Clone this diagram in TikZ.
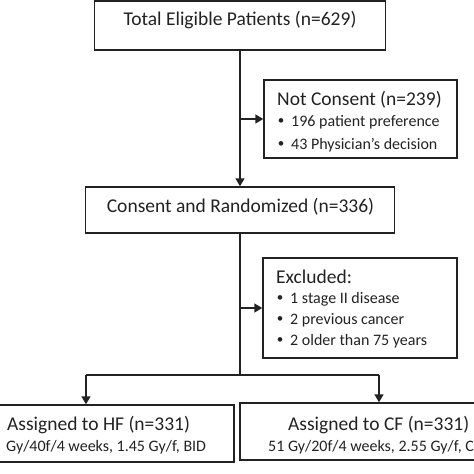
\documentclass[tikz,border=0pt]{standalone}
\usepackage{fontspec}
\setmainfont{Carlito}
\usetikzlibrary{arrows.meta}
\definecolor{ink}{HTML}{222222}
\tikzset{
  box/.style={draw=ink, line width=1.4pt, rectangle, inner sep=0pt},
  big/.style={inner sep=0pt, text=ink, font=\fontsize{19.5}{22}\selectfont},
  small/.style={inner sep=0pt, text=ink, font=\fontsize{16}{19}\selectfont, anchor=west},
  bul/.style={inner sep=0pt, text=ink, font=\fontsize{13}{16}\selectfont},
  conn/.style={draw=ink, line width=1.4pt},
  arr/.style={conn, -{Triangle[length=8pt,width=9pt]}}
}
\begin{document}
\begin{tikzpicture}[x=1pt,y=-1pt]
\clip (0,0) rectangle (474,474);
\useasboundingbox (0,0) rectangle (474,474);
% boxes
\node[box, minimum width=291pt, minimum height=49pt] (top) at (240,25.5) {};
\node[box, minimum width=193pt, minimum height=78pt] (nc) at (360.5,119) {};
\node[box, minimum width=309pt, minimum height=46pt] (cons) at (240,210) {};
\node[box, minimum width=194pt, minimum height=100pt] (exc) at (360,308) {};
\node[box, minimum width=275pt, minimum height=57pt] (hf) at (96.5,433.5) {};
\node[box, minimum width=264pt, minimum height=57pt] (cf) at (372,431.5) {};
% texts
\node[big] (ttop) at (240,20) {Total Eligible Patients (n=629)};
\node[big, anchor=west] (tnc) at (277,100) {Not Consent (n=239)};
\node[bul] (b1) at (281,122) {•};
\node[small] (nc1) at (291,122) {196 patient preference};
\node[bul] (b2) at (281,145) {•};
\node[small] (nc2) at (291,145) {43 Physician’s decision};
\node[big] (tcons) at (240.5,207) {Consent and Randomized (n=336)};
\node[big, anchor=west] (texc) at (276,277) {Excluded:};
\node[bul] (b3) at (280,299) {•};
\node[small] (e1) at (290,299) {1 stage II disease};
\node[bul] (b4) at (280,320) {•};
\node[small] (e2) at (290,320) {2 previous cancer};
\node[bul] (b5) at (280,341) {•};
\node[small] (e3) at (290,341) {2 older than 75 years};
\node[big, anchor=west] (thf) at (7,425) {Assigned to HF (n=331)};
\node[small] (hf2) at (6,447) {Gy/40f/4 weeks, 1.45 Gy/f, BID};
\node[big, anchor=west] (tcf) at (288,425) {Assigned to CF (n=331)};
\node[small] (cf2) at (268,447) {51 Gy/20f/4 weeks, 2.55 Gy/f, C};
% connectors
\draw[arr] (top.south) -- (cons.north);
\draw[arr] (top.south |- nc.west) -- (nc.west);
\coordinate (split) at (240,375);
\coordinate (l) at (86,375);
\coordinate (r) at (379,375);
\draw[conn] (cons.south) -- (split);
\draw[arr] (cons.south |- exc.west) -- (exc.west);
\draw[conn] (l) -- (r);
\draw[arr] (l) -- (l |- hf.north);
\draw[arr] (r) -- (r |- cf.north);
\end{tikzpicture}
\end{document}
